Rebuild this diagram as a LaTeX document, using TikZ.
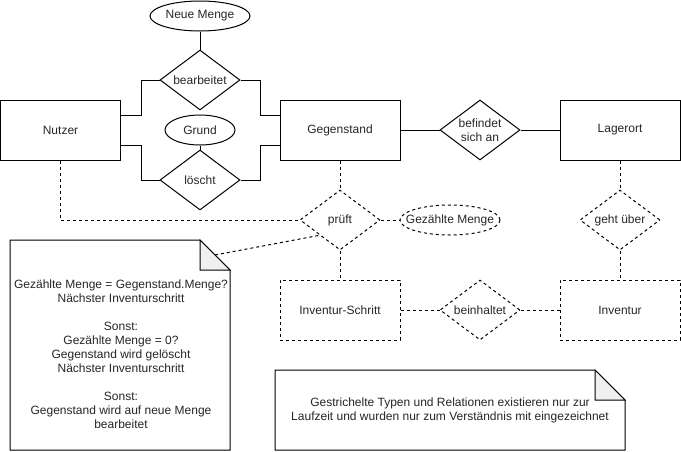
\documentclass[tikz,border=0pt]{standalone}
\usepackage{fontspec}
\setmainfont{Liberation Sans}
\usetikzlibrary{shapes.geometric}
\begin{document}
\begin{tikzpicture}[x=1pt,y=-1pt, line width=1pt,
  every node/.style={font=\fontsize{12}{14}\selectfont, text=black!85},
  ent/.style={draw, rectangle, minimum width=120pt, minimum height=60pt, inner sep=0pt},
  rel/.style={draw, diamond, minimum width=80pt, minimum height=60pt, inner sep=0pt},
  attr/.style={draw, ellipse, inner sep=0pt, minimum height=30pt},
  dsh/.style={dash pattern=on 3pt off 3pt},
  notefold/.style={draw, fill=black!6}
]
\useasboundingbox (0,0) rectangle (681,451);

% solid part
\node[attr, minimum width=100pt, label={center:Neue Menge}] (nm) at (200,16) {};
\node[rel, label={center:bearbeitet}] (bear) at (200,80) {};
\node[attr, minimum width=70pt, label={center:Grund}] (grund) at (200,130) {};
\node[rel, label={center:löscht}] (loe) at (200,180) {};
\node[ent] (nutzer) at (60.5,130) {Nutzer};
\node[ent] (geg) at (340,130) {Gegenstand};
\node[rel, label={[align=center]center:befindet\\sich an}] (bef) at (480,130) {};
\node[ent] (lag) at (620,130) {Lagerort};

% dashed part
\node[rel, dsh, label={center:prüft}] (pruef) at (340,220) {};
\node[attr, dsh, minimum width=100pt, label={center:Gezählte Menge}] (gm) at (450,220) {};
\node[rel, dsh, label={center:geht über}] (geht) at (620,220) {};
\node[ent, dsh] (invs) at (340,310) {Inventur-Schritt};
\node[rel, dsh, label={center:beinhaltet}] (bein) at (480,310) {};
\node[ent, dsh] (inv) at (620,310) {Inventur};

% connectors solid
\draw (nm) -- (bear);
\draw (grund) -- (loe);
\draw ([yshift=15pt]nutzer.east) -- ++(20,0) |- (bear.west);
\draw (bear.east) -- ++(20,0) |- ([yshift=15pt]geg.west);
\draw ([yshift=-15pt]nutzer.east) -- ++(20,0) |- (loe.west);
\draw (loe.east) -- ++(20,0) |- ([yshift=-15pt]geg.west);
\draw (geg) -- (bef);
\draw (bef) -- (lag);

% connectors dashed
\draw[dsh] (nutzer.south) |- (pruef.west);
\draw[dsh] (geg.south) -- (pruef.north);
\draw[dsh] (pruef.east) -- (gm.west);
\draw[dsh] (lag.south) -- (geht.north);
\draw[dsh] (geht.south) -- (inv.north);
\draw[dsh] (pruef.south) -- (invs.north);
\draw[dsh] (invs.east) -- (bein.west);
\draw[dsh] (bein.east) -- (inv.west);

% note 1
\draw[fill=white] (10,240) -- (200,240) -- (230,270) -- (230,450) -- (10,450) -- cycle;
\draw[notefold] (200,240) -- (200,270) -- (230,270) -- cycle;
\coordinate (n1c) at (215,255);
\node[align=center, inner sep=0pt] (note1) at (121,354) {Gezählte Menge = Gegenstand.Menge?\\Nächster Inventurschritt\\[14pt]Sonst:\\Gezählte Menge = 0?\\Gegenstand wird gelöscht\\Nächster Inventurschritt\\[14pt]Sonst:\\Gegenstand wird auf neue Menge\\bearbeitet};
\draw[dsh] (n1c) -- (pruef.south west);

% note 2
\draw[fill=white] (275,370) -- (595,370) -- (625,400) -- (625,450) -- (275,450) -- cycle;
\draw[notefold] (595,370) -- (595,400) -- (625,400) -- cycle;
\node[align=center, inner sep=0pt] (note2) at (450,410.5) {Gestrichelte Typen und Relationen existieren nur zur\\Laufzeit und wurden nur zum Verständnis mit eingezeichnet};
\end{tikzpicture}
\end{document}
